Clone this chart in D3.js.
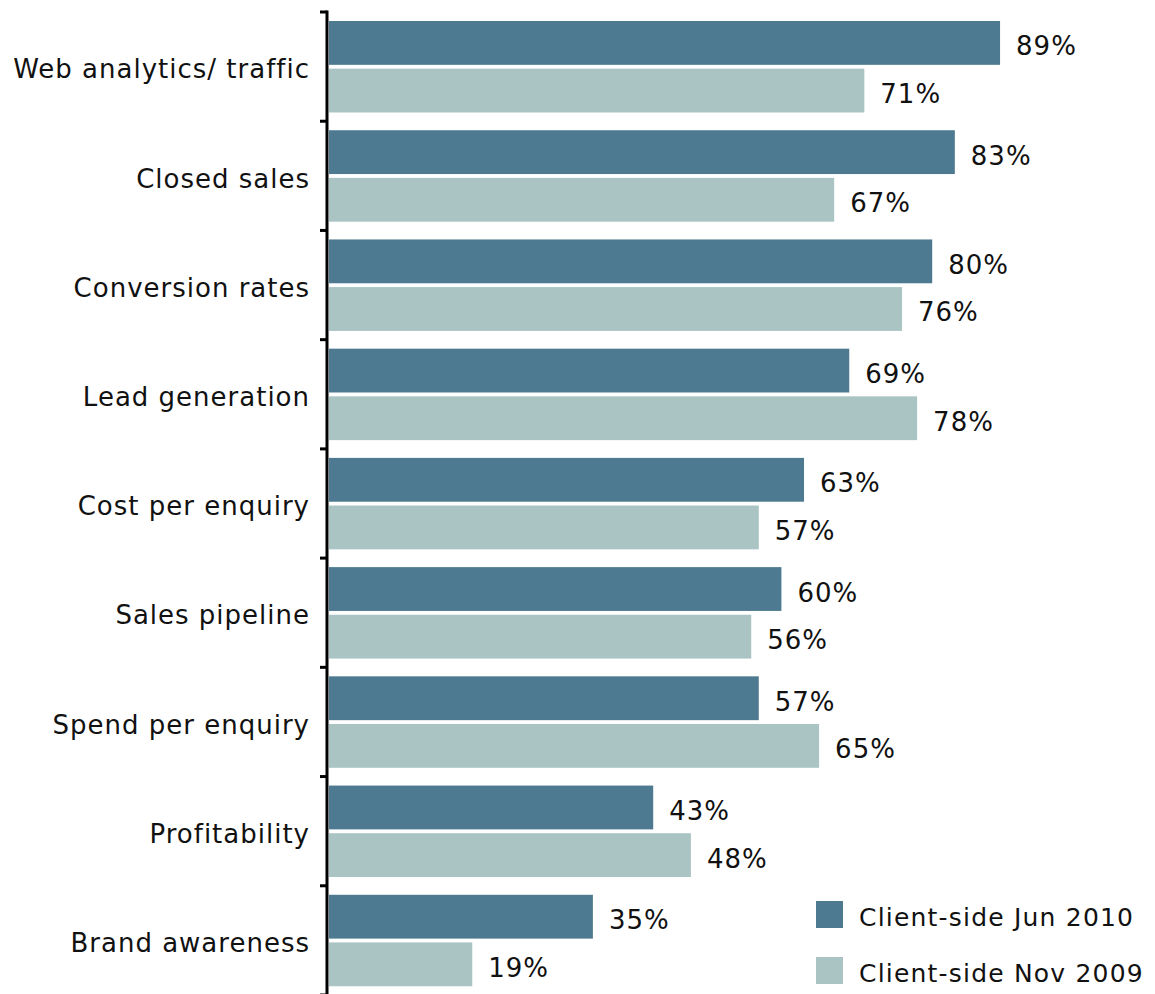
<!DOCTYPE html>
<html>
<head>
<meta charset="utf-8">
<script src="https://cdn.jsdelivr.net/npm/d3@7"></script>
<style>
  html, body { margin: 0; padding: 0; background: #ffffff; }
  svg text { font-family: "DejaVu Sans", Verdana, sans-serif; fill: #111; }
</style>
</head>
<body>
<svg id="chart" width="1155" height="994"></svg>
<script>
// Metrics measured, share of respondents (%)
const categories = [
  "Web analytics/ traffic",
  "Closed sales",
  "Conversion rates",
  "Lead generation",
  "Cost per enquiry",
  "Sales pipeline",
  "Spend per enquiry",
  "Profitability",
  "Brand awareness"
];
const seriesNames = ["Client-side Jun 2010", "Client-side Nov 2009"];
const jun2010 = [89, 83, 80, 69, 63, 60, 57, 43, 35];
const nov2009 = [71, 67, 76, 78, 57, 56, 65, 48, 19];
const seriesColors = ["#4e7a91", "#aac4c4"];

const svg = d3.select("#chart");
const axisX = 327;
const fontSize = 26;
const letterSpacing = 1.0;

const x = d3.scaleLinear().domain([0, 100]).range([329, 1083]);
const y = d3.scaleBand().domain(categories).range([12, 995]).paddingInner(0).paddingOuter(0);
const ySub = d3.scaleBand().domain(seriesNames).range([9, y.bandwidth() - 8.75]).paddingInner(0.08);

const rows = categories.map((c, i) => ({ cat: c, vals: [jun2010[i], nov2009[i]] }));

// bars
const groups = svg.append("g").selectAll("g")
  .data(rows).join("g")
  .attr("transform", d => `translate(0,${y(d.cat)})`);

groups.selectAll("rect")
  .data(d => d.vals.map((v, k) => ({ v, k })))
  .join("rect")
  .attr("x", x(0))
  .attr("y", d => ySub(seriesNames[d.k]))
  .attr("width", d => x(d.v) - x(0))
  .attr("height", ySub.bandwidth())
  .attr("fill", d => seriesColors[d.k]);

// value labels
groups.selectAll("text.val")
  .data(d => d.vals.map((v, k) => ({ v, k })))
  .join("text")
  .attr("class", "val")
  .attr("x", d => x(d.v) + 16)
  .attr("y", d => ySub(seriesNames[d.k]) + ySub.bandwidth() / 2)
  .attr("dy", "0.48em")
  .style("font-size", fontSize + "px")
  .style("letter-spacing", letterSpacing + "px")
  .text(d => d.v + "%");

// category axis: line with ticks at band boundaries
const axis = svg.append("g");
axis.append("line")
  .attr("x1", axisX).attr("x2", axisX)
  .attr("y1", y.range()[0] - 1.5).attr("y2", y.range()[1])
  .attr("stroke", "#000").attr("stroke-width", 3);
const boundaries = categories.map(c => y(c)).concat([y.range()[1]]);
axis.selectAll("line.tick")
  .data(boundaries).join("line")
  .attr("class", "tick")
  .attr("x1", axisX - 7).attr("x2", axisX)
  .attr("y1", d => d).attr("y2", d => d)
  .attr("stroke", "#000").attr("stroke-width", 3);

axis.selectAll("text.cat")
  .data(categories).join("text")
  .attr("class", "cat")
  .attr("x", 310)
  .attr("y", d => y(d) + y.bandwidth() / 2)
  .attr("dy", "0.45em")
  .attr("text-anchor", "end")
  .style("font-size", fontSize + "px")
  .style("letter-spacing", letterSpacing + "px")
  .text(d => d);

// legend
const legend = svg.append("g").attr("transform", "translate(816,901)");
const li = legend.selectAll("g").data(seriesNames).join("g")
  .attr("transform", (d, i) => `translate(0,${i * 56})`);
li.append("rect")
  .attr("width", 27).attr("height", 27)
  .attr("fill", (d, i) => seriesColors[i]);
li.append("text")
  .attr("x", 43).attr("y", 13.5)
  .attr("dy", "0.45em")
  .style("font-size", "25px")
  .style("letter-spacing", "1.2px")
  .text(d => d);
</script>
</body>
</html>
